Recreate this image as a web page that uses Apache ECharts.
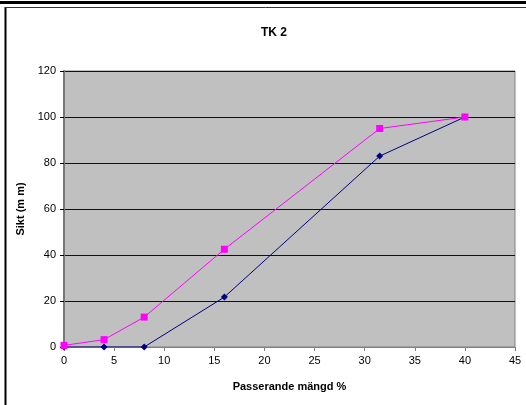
<!DOCTYPE html>
<html>
<head>
<meta charset="utf-8">
<script src="https://cdn.jsdelivr.net/npm/echarts@6/dist/echarts.min.js"></script>
<style>
  html, body { margin: 0; padding: 0; background: #fff; }
  #chart { width: 526px; height: 405px; }
</style>
</head>
<body>
<div id="chart"></div>
<script>
// Sieve curve TK 2: passing amount (%) against sieve size (mm)
const passing1 = [0, 4, 8, 16, 31.5, 40];
const sieve1 = [0, 0, 0, 21.7, 83, 100];
const passing2 = [0, 4, 8, 16, 31.5, 40];
const sieve2 = [0.7, 3.2, 13, 42.5, 95, 100];
const xTicks = [0, 5, 10, 15, 20, 25, 30, 35, 40, 45];
const yTicks = [0, 20, 40, 60, 80, 100, 120];

const pairs = (xs, ys) => xs.map((x, i) => [x, ys[i]]);

const chart = echarts.init(document.getElementById('chart'), null, { renderer: 'canvas' });
const font = 'Liberation Sans, Arial, sans-serif';

chart.setOption({
  animation: false,
  backgroundColor: '#fff',
  title: {
    text: 'TK 2',
    left: 269, top: 22, textAlign: 'center',
    textStyle: { fontFamily: font, fontSize: 12, fontWeight: 'bold', color: '#000' }
  },
  graphic: [
    { type: 'rect', shape: { x: 0, y: 1, width: 526, height: 3 }, style: { fill: '#000' } },
    { type: 'line', shape: { x1: 5.5, y1: 7, x2: 5.5, y2: 405 }, style: { stroke: '#000', lineWidth: 2 } },
    { type: 'line', shape: { x1: 5, y1: 7.5, x2: 526, y2: 7.5 }, style: { stroke: '#333', lineWidth: 1 } }
  ],
  grid: {
    left: 64, right: 11, top: 71, bottom: 58,
    show: true, backgroundColor: '#c0c0c0', borderColor: '#808080', borderWidth: 1
  },
  xAxis: {
    type: 'value', min: xTicks[0], max: xTicks[xTicks.length - 1], interval: 5,
    name: 'Passerande mängd %', nameLocation: 'middle', nameGap: 34,
    nameTextStyle: { fontFamily: font, fontSize: 11, fontWeight: 'bold', color: '#000' },
    axisLine: { lineStyle: { color: '#808080', width: 1 } },
    axisTick: { show: true, length: 4, lineStyle: { color: '#808080' } },
    axisLabel: { fontFamily: font, fontSize: 11, color: '#000', margin: 8 },
    splitLine: { show: false }
  },
  yAxis: {
    type: 'value', min: yTicks[0], max: yTicks[yTicks.length - 1], interval: 20,
    name: 'Sikt (m m)', nameLocation: 'middle', nameGap: 37, nameRotate: 90,
    nameTextStyle: { fontFamily: font, fontSize: 11, fontWeight: 'bold', color: '#000' },
    axisLine: { show: true, lineStyle: { color: '#777', width: 2 } },
    axisTick: { show: true, length: 4, lineStyle: { color: '#000' } },
    axisLabel: { fontFamily: font, fontSize: 11, color: '#000', margin: 8 },
    splitLine: { show: true, lineStyle: { color: '#111', width: 1 } }
  },
  series: [
    {
      type: 'line', data: pairs(passing1, sieve1),
      symbol: 'diamond', symbolSize: 7, showAllSymbol: true,
      lineStyle: { color: '#000080', width: 1 },
      itemStyle: { color: '#000080' }, z: 3
    },
    {
      type: 'line', data: pairs(passing2, sieve2),
      symbol: 'rect', symbolSize: 7, showAllSymbol: true,
      lineStyle: { color: '#ff00ff', width: 1 },
      itemStyle: { color: '#ff00ff' }, z: 4
    }
  ]
});
</script>
</body>
</html>
